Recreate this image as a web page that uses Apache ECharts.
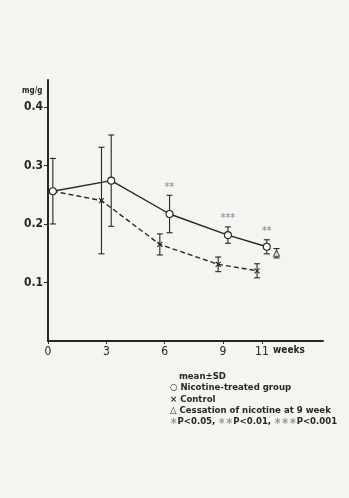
<!DOCTYPE html>
<html>
<head>
<meta charset="utf-8">
<script src="https://cdn.jsdelivr.net/npm/echarts@6/dist/echarts.min.js"></script>
<style>
  html, body { margin: 0; padding: 0; background: #f6f4f0; }
  #chart { width: 349px; height: 498px; }
</style>
</head>
<body>
<div id="chart"></div>
<script>
// Weeks of measurement
var weeks = [0, 3, 6, 9, 11];
var tickWeeks = [0, 3, 6, 9, 11];
var tickValues = [0.1, 0.2, 0.3, 0.4];

// Nicotine-treated group: mean and SD (mg/g)
var nicotineMean = [0.256, 0.274, 0.217, 0.181, 0.161];
var nicotineSD   = [0.056, 0.078, 0.032, 0.014, 0.012];

// Control group: mean and SD (mg/g)
var controlMean = [0.256, 0.240, 0.165, 0.131, 0.120];
var controlSD   = [null,  0.091, 0.018, 0.0125, 0.012];

// Cessation of nicotine at 9 week, measured at week 11
var cessationWeek = [11];
var cessationMean = [0.150];
var cessationSD   = [0.008];

// Significance marks over the nicotine-treated group
var sigWeeks = [6, 9, 11];
var sigMarks = ['**', '***', '**'];

var INK = '#262626';
var STAR = '#9a9aa8';
var FONT = "'Liberation Sans Narrow', 'DejaVu Sans Condensed', 'Liberation Sans', sans-serif";

// small horizontal shifts so the two groups' bars don't overlap
function shiftNic(w) { return w + 0.25; }
function shiftCtl(w) { return w === 0 ? 0.25 : w - 0.25; }

var nicPts = weeks.map(function (w, i) { return [shiftNic(w), nicotineMean[i]]; });
var ctlPts = weeks.map(function (w, i) { return [shiftCtl(w), controlMean[i]]; });
var cesPts = cessationWeek.map(function (w, i) { return [w + 0.75, cessationMean[i]]; });

var errData = [];
weeks.forEach(function (w, i) { errData.push([shiftNic(w), nicotineMean[i], nicotineSD[i]]); });
weeks.forEach(function (w, i) { if (controlSD[i] != null) errData.push([shiftCtl(w), controlMean[i], controlSD[i]]); });
cessationWeek.forEach(function (w, i) { errData.push([w + 0.75, cessationMean[i], cessationSD[i]]); });

var sigData = sigWeeks.map(function (w, k) {
  var i = weeks.indexOf(w);
  return [shiftNic(w), nicotineMean[i] + nicotineSD[i], sigMarks[k]];
});

function renderErr(params, api) {
  var x = api.value(0), m = api.value(1), s = api.value(2);
  var top = api.coord([x, m + s]);
  var bot = api.coord([x, m - s]);
  var hw = 3;
  var st = { stroke: INK, lineWidth: 1.1 };
  return {
    type: 'group',
    children: [
      { type: 'line', shape: { x1: top[0], y1: top[1], x2: bot[0], y2: bot[1] }, style: st },
      { type: 'line', shape: { x1: top[0] - hw, y1: top[1], x2: top[0] + hw, y2: top[1] }, style: st },
      { type: 'line', shape: { x1: bot[0] - hw, y1: bot[1], x2: bot[0] + hw, y2: bot[1] }, style: st }
    ]
  };
}

function renderSig(params, api) {
  var p = api.coord([api.value(0), api.value(1)]);
  return {
    type: 'text',
    style: {
      x: p[0], y: p[1] - 3, text: sigMarks[params.dataIndex],
      fill: STAR, font: 'bold 10px ' + FONT, align: 'center', verticalAlign: 'bottom'
    }
  };
}

var chart = echarts.init(document.getElementById('chart'), null, { renderer: 'canvas' });

chart.setOption({
  backgroundColor: '#f6f4f0',
  animation: false,
  grid: { left: 48, right: 26, top: 80, bottom: 157 },
  xAxis: {
    type: 'value', min: 0, max: 14.14,
    axisLine: { show: true, lineStyle: { color: INK, width: 2 } },
    axisTick: { show: true, customValues: tickWeeks, length: 3, lineStyle: { color: INK } },
    axisLabel: { customValues: tickWeeks, color: INK, fontSize: 12, fontFamily: FONT, margin: 5 },
    splitLine: { show: false }
  },
  yAxis: {
    type: 'value', min: 0, max: 0.446,
    axisLine: { show: true, lineStyle: { color: INK, width: 2 } },
    axisTick: { show: true, customValues: tickValues, length: 4, lineStyle: { color: INK } },
    axisLabel: {
      customValues: tickValues, color: INK, fontSize: 12, fontWeight: 'bold', fontFamily: FONT, margin: 5,
      formatter: function (v) { return v.toFixed(1); }
    },
    splitLine: { show: false }
  },
  series: [
    {
      type: 'custom', renderItem: renderErr, data: errData, z: 2,
      encode: { x: 0, y: 1 }
    },
    {
      name: 'Control', type: 'line', data: ctlPts, z: 3,
      lineStyle: { color: INK, width: 1.4, type: [5, 3] },
      symbol: 'path://M0,0L10,10M10,0L0,10', symbolSize: 5, showSymbol: true,
      itemStyle: { color: 'rgba(0,0,0,0)', borderColor: INK, borderWidth: 1.1 }
    },
    {
      name: 'Nicotine-treated group', type: 'line', data: nicPts, z: 4,
      lineStyle: { color: INK, width: 1.4 },
      symbol: 'circle', symbolSize: 7,
      itemStyle: { color: '#ffffff', borderColor: INK, borderWidth: 1.1 }
    },
    {
      name: 'Cessation', type: 'scatter', data: cesPts, z: 4,
      symbol: 'triangle', symbolSize: 6,
      itemStyle: { color: '#ffffff', borderColor: INK, borderWidth: 1.1 }
    },
    {
      type: 'custom', renderItem: renderSig, data: sigData, z: 5,
      encode: { x: 0, y: 1 }
    }
  ],
  graphic: [
    { type: 'text', left: 22, top: 87, style: { text: 'mg/g', fill: INK, font: 'bold 8px ' + FONT } },
    { type: 'text', left: 273, top: 345, style: { text: 'weeks', fill: INK, font: 'bold 10px ' + FONT } },
    {
      type: 'text', left: 170, top: 371,
      style: {
        text: [
          '   mean\u00b1SD',
          '\u25cb Nicotine-treated group',
          '\u00d7 Control',
          '\u25b3 Cessation of nicotine at 9 week',
          '{s|\u2217}P<0.05, {s|\u2217\u2217}P<0.01, {s|\u2217\u2217\u2217}P<0.001'
        ].join('\n'),
        fill: INK, font: 'bold 9.5px ' + FONT, lineHeight: 11.3,
        rich: { s: { fill: STAR, font: 'bold 10px ' + FONT, lineHeight: 11.3 } }
      }
    }
  ]
});
</script>
</body>
</html>
